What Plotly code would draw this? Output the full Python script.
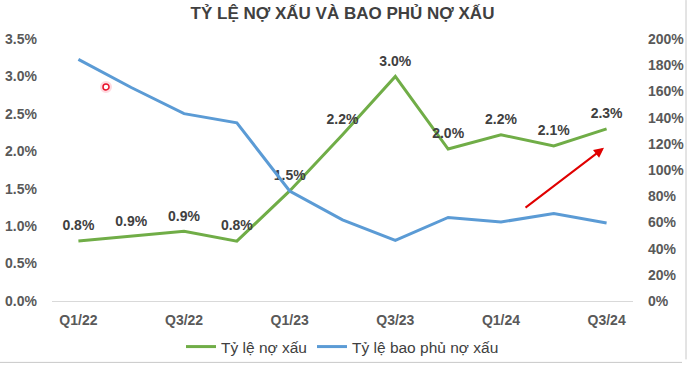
import plotly.graph_objects as go

categories = ["Q1/22", "Q2/22", "Q3/22", "Q4/22", "Q1/23", "Q2/23",
              "Q3/23", "Q4/23", "Q1/24", "Q2/24", "Q3/24"]
npl_ratio = [0.0080, 0.0086, 0.0093, 0.0080, 0.0147, 0.0222,
             0.0300, 0.0203, 0.0222, 0.0207, 0.0230]
coverage_ratio = [1.845, 1.63, 1.43, 1.36, 0.84, 0.62,
                  0.463, 0.638, 0.603, 0.667, 0.596]
tick_labels = ["Q1/22", "Q3/22", "Q1/23", "Q3/23", "Q1/24", "Q3/24"]

FONT = "Arial, Liberation Sans, sans-serif"
GRAY = "#595959"
DARK = "#404040"

W, H = 690, 365
L, R, T, B = 52, 57, 39, 63.5
pw, ph = W - L - R, H - T - B

def px(x):
    return (x - L) / pw

def py(y):
    return (H - B - y) / ph

fig = go.Figure()
fig.add_trace(go.Scatter(
    x=categories, y=npl_ratio, name="Tỷ lệ nợ xấu",
    mode="lines+markers+text", line=dict(color="#70AD47", width=3),
    marker=dict(size=10, color="rgba(0,0,0,0)"),
    text=[f"{v*100:.1f}%" for v in npl_ratio], textposition="top center",
    textfont=dict(family=FONT, size=14, color=DARK, weight="bold"),
    yaxis="y", cliponaxis=False,
))
fig.add_trace(go.Scatter(
    x=categories, y=coverage_ratio, name="Tỷ lệ bao phủ nợ xấu",
    mode="lines", line=dict(color="#5B9BD5", width=3),
    yaxis="y2",
))

fig.update_layout(
    width=W, height=H,
    margin=dict(l=L, r=R, t=T, b=B, autoexpand=False),
    paper_bgcolor="white", plot_bgcolor="white",
    title=dict(text="<b>TỶ LỆ NỢ XẤU VÀ BAO PHỦ NỢ XẤU</b>", x=0.5, xref="paper",
               xanchor="center", y=1 - 13 / H, yanchor="middle",
               font=dict(family=FONT, size=17, color=DARK)),
    xaxis=dict(type="category", tickvals=tick_labels, ticktext=tick_labels,
               showgrid=False, showline=True, linecolor="#D9D9D9", linewidth=1,
               ticks="", ticklabelstandoff=6, automargin=False,
               tickfont=dict(family=FONT, size=14, color=GRAY, weight="bold"),
               range=[-0.5, len(categories) - 0.5]),
    yaxis=dict(range=[0, 0.035], dtick=0.005, tickformat=".1%", showgrid=False,
               zeroline=False, ticks="", ticklabelstandoff=14, automargin=False,
               tickfont=dict(family=FONT, size=14, color=GRAY, weight="bold")),
    yaxis2=dict(range=[0, 2.0], dtick=0.2, tickformat=".0%", showgrid=False,
                zeroline=False, overlaying="y", side="right", ticks="",
                ticklabelstandoff=14, automargin=False,
                tickfont=dict(family=FONT, size=14, color=GRAY, weight="bold")),
    legend=dict(orientation="h", x=0.5, xanchor="center",
                yref="container", y=1 - 347 / H, yanchor="middle",
                font=dict(family=FONT, size=15.5, color=DARK), itemwidth=30,
                bgcolor="rgba(0,0,0,0)"),
    showlegend=True,
)

# red arrow annotation
fig.add_annotation(x=px(604), y=py(148), xref="paper", yref="paper",
                   ax=-80, ay=61, axref="pixel", ayref="pixel",
                   showarrow=True, arrowhead=2, arrowsize=1, arrowwidth=2,
                   arrowcolor="#E00000", text="")

# small red cursor dot
fig.add_shape(type="circle", xref="paper", yref="paper",
              x0=px(100), x1=px(112), y0=py(93), y1=py(81),
              line=dict(width=0), fillcolor="rgba(255,80,110,0.22)")
fig.add_shape(type="circle", xref="paper", yref="paper",
              x0=px(103), x1=px(109), y0=py(90), y1=py(84),
              line=dict(color="#E8102A", width=1.5), fillcolor="white")

# frame edges
fig.add_shape(type="line", xref="paper", yref="paper",
              x0=px(686), x1=px(686), y0=py(0), y1=py(360),
              line=dict(color="#C8C8C8", width=1))
fig.add_shape(type="line", xref="paper", yref="paper",
              x0=px(0), x1=px(682), y0=py(363), y1=py(363),
              line=dict(color="#C8C8C8", width=1))

fig.write_html("out.html", config={"displayModeBar": False},
               post_script="document.body.style.margin='0';document.body.style.padding='0';")
